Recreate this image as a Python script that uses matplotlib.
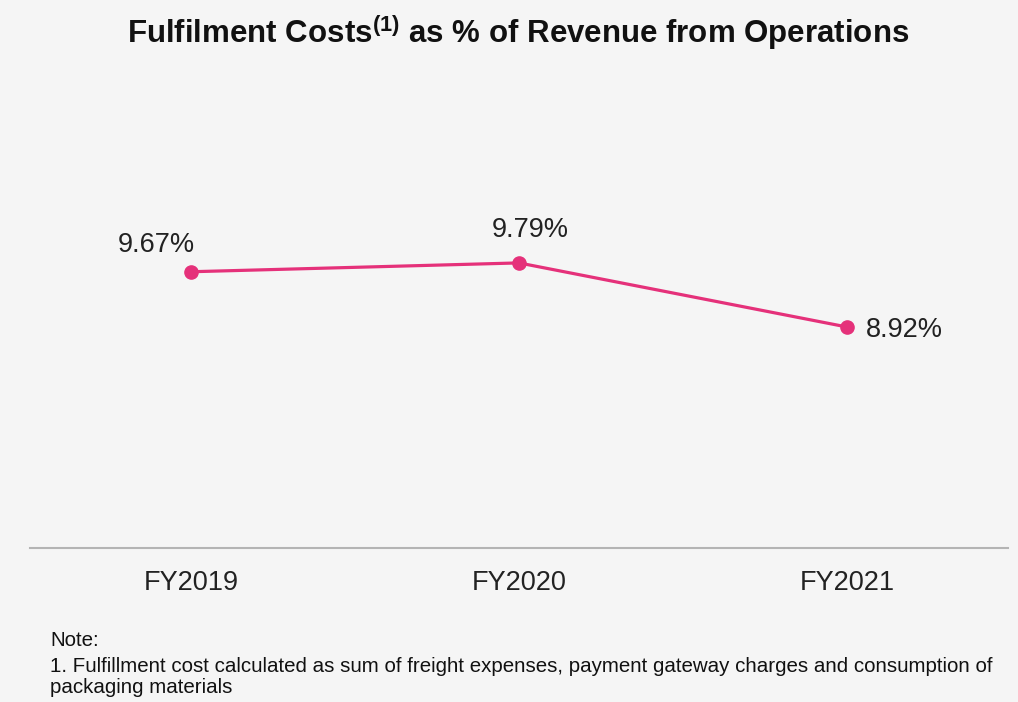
import matplotlib
matplotlib.use("Agg")
import matplotlib.pyplot as plt

years = ["FY2019", "FY2020", "FY2021"]
cost_pct = [9.67, 9.79, 8.92]
labels = ["9.67%", "9.79%", "8.92%"]

pink = "#e5317a"
plt.rcParams["font.family"] = ["Liberation Sans", "DejaVu Sans"]
plt.rcParams["mathtext.fontset"] = "custom"
plt.rcParams["mathtext.bf"] = "Liberation Sans:bold"
plt.rcParams["mathtext.rm"] = "Liberation Sans"

fig = plt.figure(figsize=(10.18, 7.02), dpi=100, facecolor="#f5f5f5")
ax = fig.add_axes([0.0295, 0.2194, 0.9605, 0.681])
ax.set_facecolor("#f5f5f5")

x = list(range(len(years)))
ax.plot(x, cost_pct, color=pink, lw=2.3, marker="o", ms=9.5, zorder=3)

# data labels
ax.annotate(labels[0], (x[0], cost_pct[0]), xytext=(-25, 19.5), textcoords="offset points",
            ha="center", va="center", fontsize=19.5, color="#222222")
ax.annotate(labels[1], (x[1], cost_pct[1]), xytext=(8.5, 24), textcoords="offset points",
            ha="center", va="center", fontsize=19.5, color="#222222")
ax.annotate(labels[2], (x[2], cost_pct[2]), xytext=(13.5, -2), textcoords="offset points",
            ha="left", va="center", fontsize=19.5, color="#222222")

ax.set_xlim(-0.49, 2.49)
ax.set_ylim(5.92, 12.41)
ax.set_xticks(x)
ax.set_xticklabels(years, fontsize=19.5, color="#222222")
ax.tick_params(axis="x", length=0, pad=16)
ax.set_yticks([])
for s in ["top", "right", "left"]:
    ax.spines[s].set_visible(False)
ax.spines["bottom"].set_color("#b4b4b4")
ax.spines["bottom"].set_linewidth(1.5)

fig.text(0.509, 0.953, r"Fulfilment Costs$^{\mathbf{(1)}}$ as % of Revenue from Operations",
         ha="center", va="center", fontsize=22.5, fontweight="bold", color="#111111")

fig.text(0.049, 0.088, "Note:", ha="left", va="center", fontsize=14.8, color="#111111")
fig.text(0.049, 0.036,
         "1. Fulfillment cost calculated as sum of freight expenses, payment gateway charges and consumption of\npackaging materials",
         ha="left", va="center", fontsize=14.8, color="#111111", linespacing=1.12)

fig.savefig("out.png", dpi=100, facecolor=fig.get_facecolor())
